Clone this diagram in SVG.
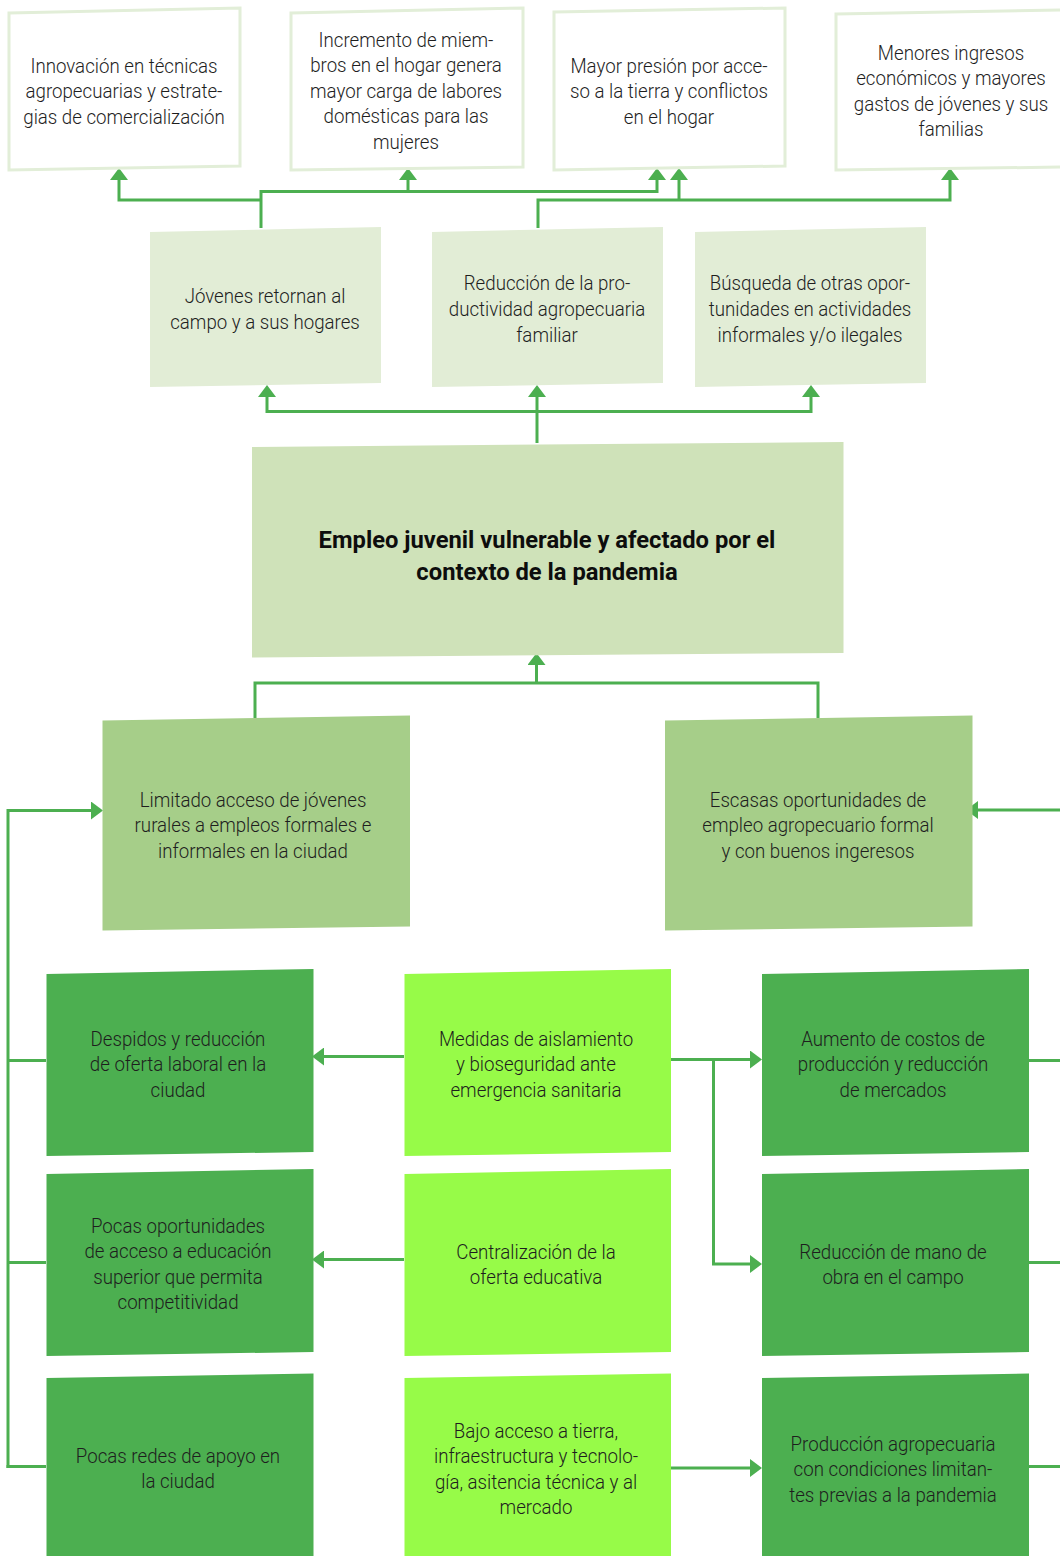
<svg xmlns="http://www.w3.org/2000/svg" width="1060" height="1556" viewBox="0 0 1060 1556">
<defs>
<marker id="ah" viewBox="0 0 12 18" refX="0" refY="9" markerWidth="12" markerHeight="18" markerUnits="userSpaceOnUse" orient="auto">
<path d="M0,0 L12,9 L0,18 z" fill="#4caf50"/>
</marker>
<style>
.t{font-family:Roboto,"Liberation Sans",sans-serif;font-weight:300;font-size:21px;fill:#1e1e1e;text-anchor:middle}
.b{font-family:Roboto,"Liberation Sans",sans-serif;font-weight:700;font-size:24px;fill:#0d0d0d;text-anchor:middle}
.top{fill:#fff;stroke:#e2eed8;stroke-width:3}
.mid{fill:#e2edd6}
.core{fill:#cfe2b9}
.lv2{fill:#a6ce89}
.dk{fill:#4caf50}
.lm{fill:#97fb48}
.c{fill:none;stroke:#4caf50;stroke-width:3}
.a{marker-end:url(#ah)}
</style>
</defs>
<rect width="1060" height="1556" fill="#fff"/>

<g id="connectors">
<path class="c a" d="M261,228 V191.5 H657 V180"/>
<path class="c a" d="M408,191.5 V180"/>
<path class="c a" d="M261,200 H119 V180"/>
<path class="c a" d="M538,228 V200 H950 V180"/>
<path class="c a" d="M679,200 V180"/>
<path class="c a" d="M537,443 V397"/>
<path class="c a" d="M537,411.5 H267 V397"/>
<path class="c a" d="M537,411.5 H811 V397"/>
<path class="c a" d="M536.5,683 V665"/>
<path class="c" d="M255,718 V683 H818 V718"/>
<path class="c a" d="M8,1468 V810.5 H91"/>
<path class="c a" d="M1062,810 H978"/>
<path class="c" d="M8,1060.5 H46 M8,1262.5 H46 M6.5,1466.5 H46"/>
<path class="c a" d="M404,1056.5 H324"/>
<path class="c a" d="M404,1259.5 H324"/>
<path class="c a" d="M671,1059.5 H750"/>
<path class="c a" d="M713.5,1059.5 V1264 H750"/>
<path class="c a" d="M671,1468 H750"/>
<path class="c" d="M1029,1060.5 H1062 M1029,1262.5 H1062 M1029,1466.5 H1062"/>
</g>

<g id="n-innovacion">
<polygon class="top" points="9,13 240,8 240,166 9,170"/>
<text class="t" transform="translate(124 0) scale(0.89 1)"><tspan x="0" y="73">Innovación en técnicas</tspan><tspan x="0" y="98.5">agropecuarias y estrate-</tspan><tspan x="0" y="124">gias de comercialización</tspan></text>
</g>
<g id="n-incremento">
<polygon class="top" points="291,13 523,8 523,167 291,170"/>
<text class="t" transform="translate(406 0) scale(0.89 1)"><tspan x="0" y="47">Incremento de miem-</tspan><tspan x="0" y="72.5">bros en el hogar genera</tspan><tspan x="0" y="98">mayor carga de labores</tspan><tspan x="0" y="123.5">domésticas para las</tspan><tspan x="0" y="149">mujeres</tspan></text>
</g>
<g id="n-presion">
<polygon class="top" points="554,12 785,8 785,166 554,170"/>
<text class="t" transform="translate(669 0) scale(0.89 1)"><tspan x="0" y="73">Mayor presión por acce-</tspan><tspan x="0" y="98.5">so a la tierra y conflictos</tspan><tspan x="0" y="124">en el hogar</tspan></text>
</g>
<g id="n-ingresos">
<polygon class="top" points="836,14 1064,10 1064,167 836,170"/>
<text class="t" transform="translate(951 0) scale(0.89 1)"><tspan x="0" y="60">Menores ingresos</tspan><tspan x="0" y="85.5">económicos y mayores</tspan><tspan x="0" y="111">gastos de jóvenes y sus</tspan><tspan x="0" y="136.5">familias</tspan></text>
</g>

<g id="n-jovenes">
<polygon class="mid" points="150,232 381,227 381,383 150,387"/>
<text class="t" transform="translate(265 0) scale(0.89 1)"><tspan x="0" y="303">Jóvenes retornan al</tspan><tspan x="0" y="329">campo y a sus hogares</tspan></text>
</g>
<g id="n-productividad">
<polygon class="mid" points="432,232 663,227 663,383 432,387"/>
<text class="t" transform="translate(547 0) scale(0.89 1)"><tspan x="0" y="290">Reducción de la pro-</tspan><tspan x="0" y="316">ductividad agropecuaria</tspan><tspan x="0" y="342">familiar</tspan></text>
</g>
<g id="n-busqueda">
<polygon class="mid" points="695,232 926,227 926,383 695,387"/>
<text class="t" transform="translate(810 0) scale(0.89 1)"><tspan x="0" y="290">Búsqueda de otras opor-</tspan><tspan x="0" y="316">tunidades en actividades</tspan><tspan x="0" y="342">informales y/o ilegales</tspan></text>
</g>

<g id="n-central">
<polygon class="core" points="252,447 843.5,442 843.5,653 252,657.5"/>
<text class="b" transform="translate(547 0) scale(0.99 1)"><tspan x="0" y="548">Empleo juvenil vulnerable y afectado por el</tspan><tspan x="0" y="580">contexto de la pandemia</tspan></text>
</g>

<g id="n-limitado">
<polygon class="lv2" points="102.5,720.5 410,715.5 410,926.5 102.5,930.5"/>
<text class="t" transform="translate(253 0) scale(0.89 1)"><tspan x="0" y="807">Limitado acceso de jóvenes</tspan><tspan x="0" y="832.5">rurales a empleos formales e</tspan><tspan x="0" y="858">informales en la ciudad</tspan></text>
</g>
<g id="n-escasas">
<polygon class="lv2" points="665,720.5 972.5,715.5 972.5,926.5 665,930.5"/>
<text class="t" transform="translate(818 0) scale(0.89 1)"><tspan x="0" y="807">Escasas oportunidades de</tspan><tspan x="0" y="832.5">empleo agropecuario formal</tspan><tspan x="0" y="858">y con buenos ingeresos</tspan></text>
</g>

<g id="n-despidos">
<polygon class="dk" points="46.5,974 313.5,969 313.5,1152 46.5,1156"/>
<text class="t" transform="translate(178 0) scale(0.89 1)"><tspan x="0" y="1046">Despidos y reducción</tspan><tspan x="0" y="1071.5">de oferta laboral en la</tspan><tspan x="0" y="1097">ciudad</tspan></text>
</g>
<g id="n-pocas-oportunidades">
<polygon class="dk" points="46.5,1174 313.5,1169 313.5,1352 46.5,1356"/>
<text class="t" transform="translate(178 0) scale(0.89 1)"><tspan x="0" y="1233">Pocas oportunidades</tspan><tspan x="0" y="1258.5">de acceso a educación</tspan><tspan x="0" y="1284">superior que permita</tspan><tspan x="0" y="1309.5">competitividad</tspan></text>
</g>
<g id="n-pocas-redes">
<polygon class="dk" points="46.5,1378 313.5,1373.5 313.5,1560 46.5,1560"/>
<text class="t" transform="translate(178 0) scale(0.89 1)"><tspan x="0" y="1463">Pocas redes de apoyo en</tspan><tspan x="0" y="1488.5">la ciudad</tspan></text>
</g>

<g id="n-medidas">
<polygon class="lm" points="404.5,974 671,969 671,1152 404.5,1156"/>
<text class="t" transform="translate(536 0) scale(0.89 1)"><tspan x="0" y="1046">Medidas de aislamiento</tspan><tspan x="0" y="1071.5">y bioseguridad ante</tspan><tspan x="0" y="1097">emergencia sanitaria</tspan></text>
</g>
<g id="n-centralizacion">
<polygon class="lm" points="404.5,1174 671,1169 671,1352 404.5,1356"/>
<text class="t" transform="translate(536 0) scale(0.89 1)"><tspan x="0" y="1259">Centralización de la</tspan><tspan x="0" y="1284.5">oferta educativa</tspan></text>
</g>
<g id="n-bajo-acceso">
<polygon class="lm" points="404.5,1378 671,1373.5 671,1560 404.5,1560"/>
<text class="t" transform="translate(536 0) scale(0.89 1)"><tspan x="0" y="1438">Bajo acceso a tierra,</tspan><tspan x="0" y="1463.5">infraestructura y tecnolo-</tspan><tspan x="0" y="1489">gía, asitencia técnica y al</tspan><tspan x="0" y="1514.5">mercado</tspan></text>
</g>

<g id="n-aumento">
<polygon class="dk" points="762,974 1029,969 1029,1152 762,1156"/>
<text class="t" transform="translate(893 0) scale(0.89 1)"><tspan x="0" y="1046">Aumento de costos de</tspan><tspan x="0" y="1071.5">producción y reducción</tspan><tspan x="0" y="1097">de mercados</tspan></text>
</g>
<g id="n-mano-obra">
<polygon class="dk" points="762,1174 1029,1169 1029,1352 762,1356"/>
<text class="t" transform="translate(893 0) scale(0.89 1)"><tspan x="0" y="1259">Reducción de mano de</tspan><tspan x="0" y="1284.5">obra en el campo</tspan></text>
</g>
<g id="n-produccion">
<polygon class="dk" points="762,1378 1029,1373.5 1029,1560 762,1560"/>
<text class="t" transform="translate(893 0) scale(0.89 1)"><tspan x="0" y="1451">Producción agropecuaria</tspan><tspan x="0" y="1476.5">con condiciones limitan-</tspan><tspan x="0" y="1502">tes previas a la pandemia</tspan></text>
</g>
</svg>
